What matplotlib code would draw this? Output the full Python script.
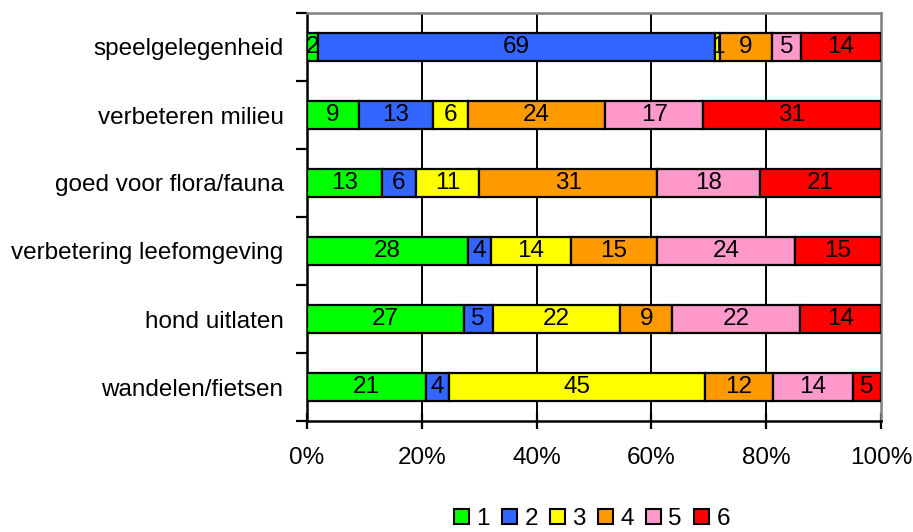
import matplotlib
matplotlib.use("Agg")
import matplotlib.pyplot as plt
from matplotlib.patches import Patch
from matplotlib.ticker import FuncFormatter
import numpy as np

plt.rcParams['font.family'] = ['Liberation Sans', 'DejaVu Sans']

categories = ["speelgelegenheid", "verbeteren milieu", "goed voor flora/fauna",
              "verbetering leefomgeving", "hond uitlaten", "wandelen/fietsen"]
series_names = ["1", "2", "3", "4", "5", "6"]
s1 = [2, 9, 13, 28, 27, 21]
s2 = [69, 13, 6, 4, 5, 4]
s3 = [1, 6, 11, 14, 22, 45]
s4 = [9, 24, 31, 15, 9, 12]
s5 = [5, 17, 18, 24, 22, 14]
s6 = [14, 31, 21, 15, 14, 5]
colors = ["#00FF00", "#3366FF", "#FFFF00", "#FF9900", "#FF99CC", "#FF0000"]
xticks = [0, 20, 40, 60, 80, 100]

series = np.array([s1, s2, s3, s4, s5, s6], dtype=float)
totals = series.sum(axis=0)
pct = series / totals * 100

W, H = 913, 532
fig = plt.figure(figsize=(W / 100, H / 100), dpi=100)
ax = fig.add_axes([307 / W, 1 - 421 / H, (881 - 307) / W, (421 - 13) / H])

n = len(categories)
ypos = np.arange(n)[::-1]  # top category at top
left = np.zeros(n)
FS = 17.5
for i in range(len(series_names)):
    ax.barh(ypos, pct[i], left=left, height=0.42, color=colors[i],
            edgecolor="black", linewidth=1.6, zorder=3)
    for j in range(n):
        ax.text(left[j] + pct[i][j] / 2, ypos[j], f"{int(series[i][j])}",
                ha="center", va="center", fontsize=FS, color="black", zorder=4)
    left = left + pct[i]

ax.set_xlim(0, 100)
ax.set_ylim(-0.5, n - 0.5)
ax.set_xticks(xticks)
ax.xaxis.set_major_formatter(FuncFormatter(lambda v, p: f"{int(v)}%"))
ax.tick_params(axis="x", direction="inout", length=12, width=1.6, pad=13,
               labelsize=FS)
ax.set_yticks(ypos)
ax.set_yticklabels(categories)
ax.tick_params(axis="y", which="major", length=0, pad=17, labelsize=FS)
ax.set_yticks(np.arange(n + 1) - 0.5, minor=True)
ax.tick_params(axis="y", which="minor", direction="out", length=8, width=1.6)

for v in xticks[1:-1]:
    ax.axvline(v, color="black", linewidth=1.4, zorder=1)

ax.spines["left"].set_color("black")
ax.spines["left"].set_linewidth(1.8)
ax.spines["bottom"].set_color("black")
ax.spines["bottom"].set_linewidth(1.8)
ax.spines["top"].set_color("#808080")
ax.spines["top"].set_linewidth(1.8)
ax.spines["right"].set_color("#808080")
ax.spines["right"].set_linewidth(1.8)

handles = [Patch(facecolor=c, edgecolor="black", linewidth=1.5) for c in colors]
fig.legend(handles, series_names, loc="center", ncol=6, frameon=False,
           bbox_to_anchor=(592 / W, 1 - 519 / H), fontsize=FS,
           handlelength=0.62, handleheight=0.62, handletextpad=0.3,
           columnspacing=0.5, borderpad=0)

fig.savefig("out.png", dpi=100)
